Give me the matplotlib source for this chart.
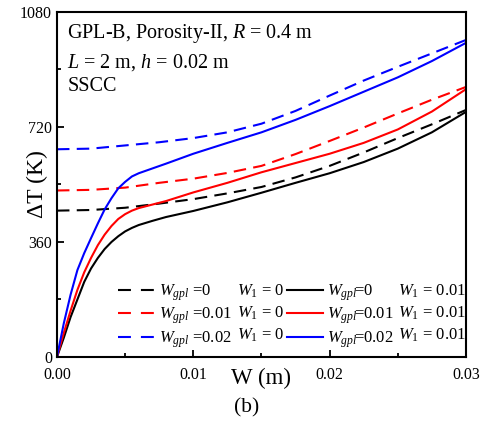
import numpy as np
import matplotlib
matplotlib.use("Agg")
import matplotlib.pyplot as plt
from matplotlib.lines import Line2D
from matplotlib.ticker import MultipleLocator, FormatStrFormatter

plt.rcParams['font.family'] = ['Liberation Serif', 'DejaVu Serif']
plt.rcParams['mathtext.fontset'] = 'custom'
plt.rcParams['mathtext.rm'] = 'Liberation Serif'
plt.rcParams['mathtext.it'] = 'Liberation Serif:italic'

# W1 = 0 (dashed)
w_dash = [0, 0.0025, 0.005, 0.0075, 0.01, 0.0125, 0.015, 0.0175, 0.02, 0.0225, 0.025, 0.0275, 0.03]
dash_gpl0 = [458, 460, 467, 480, 494, 512, 532, 562, 598, 640, 685, 728, 773]
dash_gpl001 = [521, 523, 530, 545, 558, 576, 598, 635, 676, 718, 762, 805, 845]
dash_gpl002 = [650, 652, 662, 672, 685, 703, 730, 770, 818, 865, 908, 950, 992]

# W1 = 0.01 (solid)
w_solid = [0, 0.0005, 0.001, 0.0015, 0.002, 0.0025, 0.003, 0.0035, 0.004, 0.0045, 0.005, 0.0055,
           0.006, 0.007, 0.008, 0.01, 0.0125, 0.015, 0.0175, 0.02, 0.0225, 0.025, 0.0275, 0.03]
solid_gpl0 = [0, 60, 125, 180, 235, 277, 310, 338, 360, 378, 393, 404,
              413, 426, 438, 457, 484, 514, 545, 575, 610, 652, 703, 767]
solid_gpl001 = [0, 75, 145, 210, 265, 310, 350, 383, 410, 432, 447, 458,
                466, 477, 488, 515, 545, 578, 607, 636, 670, 712, 768, 838]
solid_gpl002 = [0, 105, 195, 272, 325, 372, 418, 462, 497, 528, 548, 565,
                575, 590, 605, 636, 670, 703, 742, 785, 830, 875, 926, 983]

colors = ['black', 'red', 'blue']
gpl_labels = ['0', '0.01', '0.02']

fig = plt.figure(figsize=(4.91, 4.23), dpi=100)
ax = fig.add_axes([0.116, 0.156, 0.833, 0.816])

dash = (0, (6, 3.5))
for ys, c in zip([dash_gpl0, dash_gpl001, dash_gpl002], colors):
    ax.plot(w_dash, ys, color=c, lw=1.5, linestyle=dash)
for ys, c in zip([solid_gpl0, solid_gpl001, solid_gpl002], colors):
    ax.plot(w_solid, ys, color=c, lw=1.5)

ax.set_xlim(0, 0.03)
ax.set_ylim(0, 1080)
ax.xaxis.set_major_locator(MultipleLocator(0.01))
ax.xaxis.set_minor_locator(MultipleLocator(0.005))
ax.yaxis.set_major_locator(MultipleLocator(360))
ax.yaxis.set_minor_locator(MultipleLocator(180))
ax.xaxis.set_major_formatter(FormatStrFormatter('%.2f'))
ax.tick_params(which='both', direction='in', width=1.3, labelsize=11.5)
ax.tick_params(axis='x', pad=7)
ax.tick_params(which='major', length=5)
ax.tick_params(which='minor', length=3)
for s in ax.spines.values():
    s.set_linewidth(1.5)

ax.set_xlabel('W (m)', fontsize=16.5, labelpad=-11)
ax.set_ylabel('ΔT (K)', fontsize=17, labelpad=-20)
fig.text(0.503, 0.036, '(b)', fontsize=15.5, ha='center', va='center')

ax.text(0.025, 0.936, r'GPL-B, Porosity-II, $R$ = 0.4 m', transform=ax.transAxes,
        fontsize=14.5, va='center')
ax.text(0.025, 0.852, r'$L$ = 2 m, $h$ = 0.02 m', transform=ax.transAxes,
        fontsize=14.5, va='center')
ax.text(0.025, 0.783, 'SSCC', transform=ax.transAxes, fontsize=14.5, va='center')

handles = [Line2D([], [], color=c, lw=1.5, linestyle=(0, (6.2, 4.8))) for c in colors] + \
          [Line2D([], [], color=c, lw=1.5) for c in colors]
labels = [r'$W_{gpl}$ =' + g for g in gpl_labels] + [r'$W_{gpl}\!$=' + g for g in gpl_labels]
ax.legend(handles, labels, ncol=2, frameon=False, fontsize=12, loc='lower left',
          bbox_to_anchor=(0.149, 0.021), handlelength=2.2, handletextpad=0.25,
          columnspacing=3.3, labelspacing=0.17, borderpad=0, borderaxespad=0)

row_y = [0.191, 0.128, 0.064]
for y in row_y:
    ax.text(0.44, y, r'$W_1$ = 0', transform=ax.transAxes, fontsize=12, va='center')
    ax.text(0.834, y, r'$W_1$ = 0.01', transform=ax.transAxes, fontsize=12, va='center')

fig.savefig('out.png', dpi=100)
